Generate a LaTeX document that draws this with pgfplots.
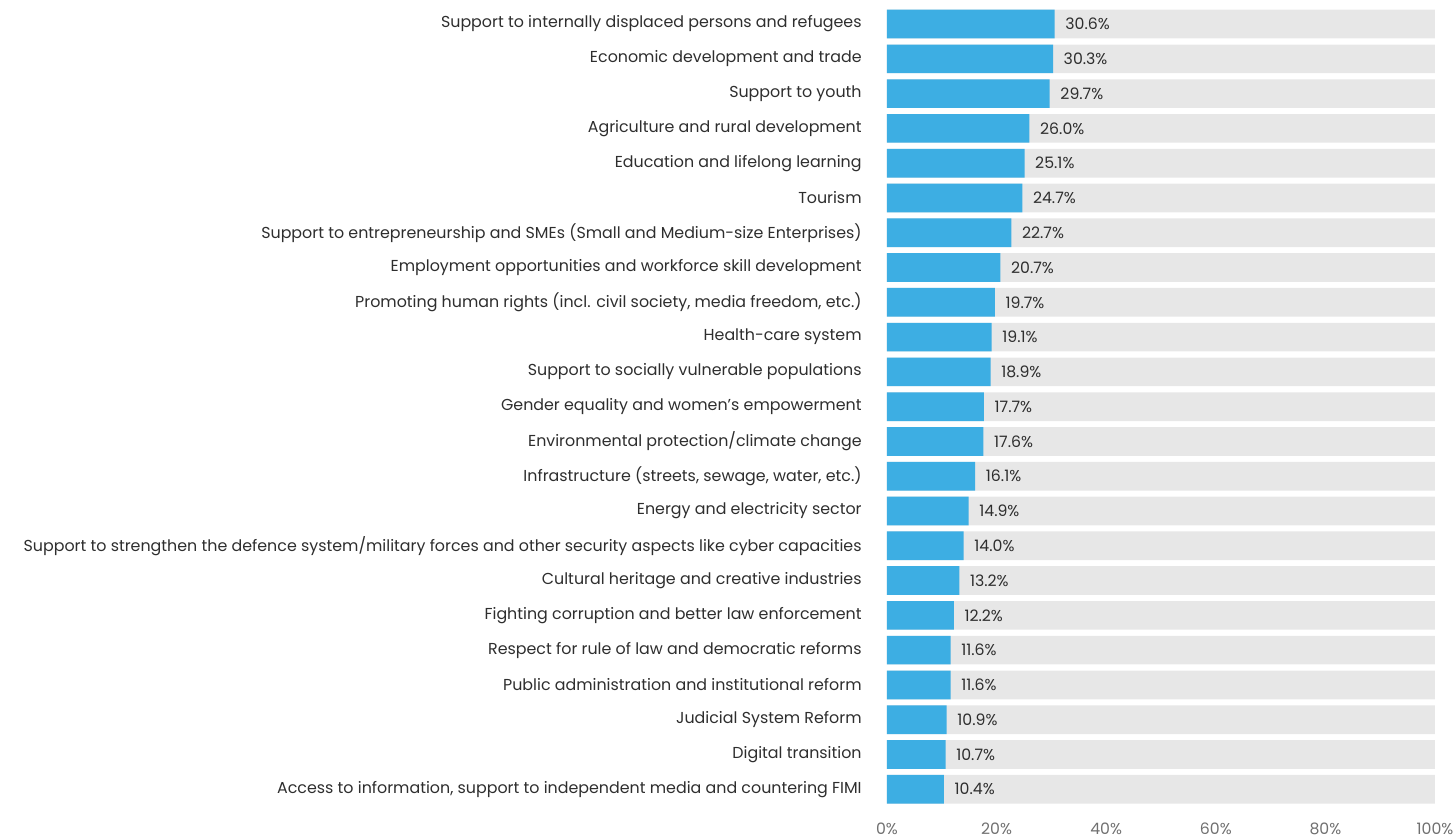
\documentclass[border=0pt]{standalone}
\usepackage{fontspec}
\setmainfont{Poppins}
\usepackage{pgfplots}
\usepackage{pgfplotstable}
\pgfplotsset{compat=1.18}

\definecolor{barblue}{HTML}{3DAEE3}
\definecolor{bargray}{HTML}{E7E7E7}
\definecolor{labelgray}{HTML}{2E2E2E}
\definecolor{tickgray}{HTML}{707070}

\pgfplotstableread{
idx val
0 30.6
1 30.3
2 29.7
3 26.0
4 25.1
5 24.7
6 22.7
7 20.7
8 19.7
9 19.1
10 18.9
11 17.7
12 17.6
13 16.1
14 14.9
15 14.0
16 13.2
17 12.2
18 11.6
19 11.6
20 10.9
21 10.7
22 10.4
}\shares

\pgfplotstableread{
idx full
0 100
1 100
2 100
3 100
4 100
5 100
6 100
7 100
8 100
9 100
10 100
11 100
12 100
13 100
14 100
15 100
16 100
17 100
18 100
19 100
20 100
21 100
22 100
}\track

\begin{document}
\begin{tikzpicture}[font=\fontsize{11.9}{14}\selectfont]
\begin{axis}[name=ax,
  at={(0,0)}, anchor=south west,
  scale only axis,
  width=411pt, height=600pt,
  xmin=0, xmax=100,
  ymin=-0.5, ymax=22.5,
  y dir=reverse,
  xbar, bar width=21.5pt, bar shift=0pt,
  axis line style={draw=none},
  major tick length=0pt,
  /pgf/number format/assume math mode=true,
  xtick={0,20,...,100},
  xticklabel={\pgfmathprintnumber{\tick}\%},
  xticklabel style={text=tickgray, yshift=-9pt, font=\fontsize{11.8}{14}\selectfont},
  ytick={0,...,22},
  yticklabel style={text=labelgray, xshift=-15.5pt},
  yticklabels={
    Support to internally displaced persons and refugees,
    Economic development and trade,
    Support to youth,
    Agriculture and rural development,
    Education and lifelong learning,
    Tourism,
    Support to entrepreneurship and SMEs (Small and Medium-size Enterprises),
    Employment opportunities and workforce skill development,
    {Promoting human rights (incl. civil society, media freedom, etc.)},
    Health-care system,
    Support to socially vulnerable populations,
    Gender equality and women's empowerment,
    Environmental protection/climate change,
    {Infrastructure (streets, sewage, water, etc.)},
    Energy and electricity sector,
    Support to strengthen the defence system/military forces and other security aspects like cyber capacities,
    Cultural heritage and creative industries,
    Fighting corruption and better law enforcement,
    Respect for rule of law and democratic reforms,
    Public administration and institutional reform,
    Judicial System Reform,
    Digital transition,
    {Access to information, support to independent media and countering FIMI}
  },
]
% grey track behind each bar
\addplot[draw=none, fill=bargray] table[x=full, y=idx] {\track};
% the shares
\addplot[draw=none, fill=barblue,
  nodes near coords={\pgfmathprintnumber[fixed,fixed zerofill,precision=1]{\pgfplotspointmeta}\%},
  nodes near coords style={anchor=west, xshift=4.5pt, text=labelgray, font=\fontsize{11.8}{14}\selectfont},
  point meta=x] table[x=val, y=idx] {\shares};
\end{axis}
\pgfresetboundingbox
\path ([shift={(-665.25pt,-23.55pt)}]ax.south west) rectangle ([shift={(425.25pt,605pt)}]ax.south west);
\end{tikzpicture}
\end{document}
